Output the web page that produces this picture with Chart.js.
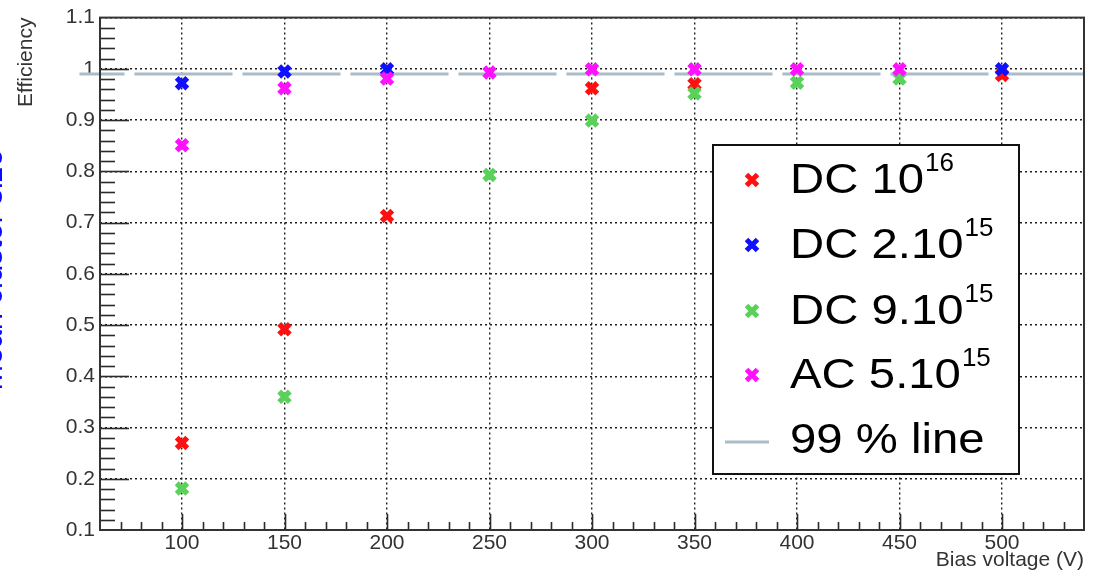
<!DOCTYPE html>
<html>
<head>
<meta charset="utf-8">
<script src="https://cdn.jsdelivr.net/npm/chart.js@4.4.1/dist/chart.umd.min.js"></script>
<style>
html,body{margin:0;padding:0;background:#fff;}
#wrap{width:1100px;height:573px;position:relative;}
</style>
</head>
<body>
<div id="wrap"><canvas id="c" width="1100" height="573"></canvas></div>
<script>
// ---- data ----
const dc1e16X = [100, 150, 200, 300, 350, 500];
const dc1e16Y = [0.270, 0.492, 0.713, 0.962, 0.970, 0.988];
const dc2e15X = [100, 150, 200, 500];
const dc2e15Y = [0.972, 0.995, 0.999, 0.999];
const dc9e15X = [100, 150, 250, 300, 350, 400, 450];
const dc9e15Y = [0.181, 0.360, 0.793, 0.899, 0.952, 0.973, 0.981];
const ac5e15X = [100, 150, 200, 250, 300, 350, 400, 450];
const ac5e15Y = [0.851, 0.962, 0.981, 0.993, 0.999, 0.999, 0.999, 0.999];
const lineX = [50, 540];
const lineLevel = 0.99;

const legendBase = ['DC 10', 'DC 2.10', 'DC 9.10', 'AC 5.10', '99 % line'];
const legendSup = ['16', '15', '15', '15', ''];

const xTicks = [100, 150, 200, 250, 300, 350, 400, 450, 500];
const xTickLabels = ['100', '150', '200', '250', '300', '350', '400', '450', '500'];
const yTicks = [0.1, 0.2, 0.3, 0.4, 0.5, 0.6, 0.7, 0.8, 0.9, 1.0, 1.1];
const yTickLabels = ['0.1', '0.2', '0.3', '0.4', '0.5', '0.6', '0.7', '0.8', '0.9', '1', '1.1'];

const xTitle = 'Bias voltage (V)';
const yTitle = 'Efficiency';
const sideText = 'Mean cluster size';

const colors = ['#ff1010', '#1010ff', '#5ad25a', '#ff10ff'];
const lineColor = '#a9bcc8';
const FONT = '"Liberation Sans", Arial, Helvetica, sans-serif';

function pts(xs, ys) { return xs.map((x, i) => ({x: x, y: ys[i]})); }

const seriesX = [dc1e16X, dc2e15X, dc9e15X, ac5e15X];
const seriesY = [dc1e16Y, dc2e15Y, dc9e15Y, ac5e15Y];
const drawOrder = [4, 3, 2, 1];

const datasets = seriesX.map((xs, i) => ({
  type: 'scatter',
  label: legendBase[i] + legendSup[i],
  data: pts(xs, seriesY[i]),
  pointStyle: 'crossRot',
  pointRadius: 7.5,
  pointBorderWidth: 5.5,
  pointBorderColor: colors[i],
  pointBackgroundColor: colors[i],
  borderColor: colors[i],
  showLine: false,
  order: drawOrder[i]
}));
datasets.push({
  type: 'line',
  label: legendBase[4],
  data: lineX.map(x => ({x: x, y: lineLevel})),
  borderColor: lineColor,
  borderWidth: 3,
  borderDash: [98, 10],
  borderDashOffset: 53,
  pointRadius: 0,
  fill: false,
  clip: false,
  order: 5
});

function drawX(ctx, cx, cy, h, w, color) {
  ctx.save();
  ctx.strokeStyle = color; ctx.lineWidth = w;
  ctx.beginPath();
  ctx.moveTo(cx - h, cy - h); ctx.lineTo(cx + h, cy + h);
  ctx.moveTo(cx + h, cy - h); ctx.lineTo(cx - h, cy + h);
  ctx.stroke();
  ctx.restore();
}

const rootDecor = {
  id: 'rootDecor',
  afterDatasetsDraw(chart) {
    const {ctx, chartArea: a, scales: {x, y}} = chart;
    ctx.save();
    ctx.strokeStyle = '#2a2a2a';
    ctx.lineWidth = 1.6;
    // x ticks (inside, pointing up)
    for (let v = 70; v < 540; v += 10) {
      const px = Math.round(x.getPixelForValue(v)) + 0.5;
      const len = (v % 50 === 0) ? 16 : 8;
      ctx.beginPath(); ctx.moveTo(px, a.bottom); ctx.lineTo(px, a.bottom - len); ctx.stroke();
    }
    // y ticks (inside, pointing right)
    for (let k = 6; k <= 54; k++) {
      const py = Math.round(y.getPixelForValue(k * 0.02)) + 0.5;
      const len = (k % 5 === 0) ? 29 : 15;
      ctx.beginPath(); ctx.moveTo(a.left, py); ctx.lineTo(a.left + len, py); ctx.stroke();
    }
    // frame
    ctx.lineWidth = 2;
    ctx.strokeStyle = '#333';
    ctx.strokeRect(a.left, a.top, a.right - a.left, a.bottom - a.top);
    ctx.restore();
  },
  afterDraw(chart) {
    const ctx = chart.ctx;
    // clipped side text from neighbouring pad
    ctx.save();
    ctx.fillStyle = '#0a0aff';
    ctx.font = '31px ' + FONT;
    ctx.translate(2, 270);
    ctx.rotate(-Math.PI / 2);
    ctx.textAlign = 'center';
    ctx.textBaseline = 'alphabetic';
    ctx.fillText(sideText, 0, 0);
    ctx.restore();

    // legend box
    const lx = 713, ly = 145, lw = 306, lh = 329;
    ctx.save();
    ctx.fillStyle = '#fff';
    ctx.fillRect(lx, ly, lw, lh);
    ctx.lineWidth = 2;
    ctx.strokeStyle = '#111';
    ctx.strokeRect(lx, ly, lw, lh);
    const baselines = [193, 258, 324, 388, 453];
    for (let i = 0; i < legendBase.length; i++) {
      const bl = baselines[i];
      if (i < 4) {
        drawX(ctx, 752, bl - 13, 5.5, 5, colors[i]);
      } else {
        ctx.save();
        ctx.strokeStyle = lineColor; ctx.lineWidth = 3;
        ctx.beginPath(); ctx.moveTo(725, bl - 11); ctx.lineTo(769, bl - 11); ctx.stroke();
        ctx.restore();
      }
      ctx.fillStyle = '#000';
      ctx.textAlign = 'left';
      ctx.textBaseline = 'alphabetic';
      ctx.save();
      ctx.translate(790, bl);
      ctx.scale(1.1, 1);
      ctx.font = '43px ' + FONT;
      ctx.fillText(legendBase[i], 0, 0);
      const w = ctx.measureText(legendBase[i]).width * 1.1;
      ctx.restore();
      if (legendSup[i]) {
        ctx.font = '26px ' + FONT;
        ctx.fillText(legendSup[i], 790 + w + 1, bl - 22);
      }
    }
    ctx.restore();
  }
};

new Chart(document.getElementById('c'), {
  data: {datasets: datasets},
  options: {
    responsive: false,
    animation: false,
    devicePixelRatio: 1,
    layout: {padding: {top: 17, right: 16, left: 0, bottom: 0}},
    plugins: {legend: {display: false}, tooltip: {enabled: false}},
    scales: {
      x: {
        type: 'linear',
        min: 60, max: 540,
        afterBuildTicks: s => { s.ticks = xTicks.map(v => ({value: v})); },
        afterFit: s => { s.height = 43; },
        ticks: {
          autoSkip: false, maxRotation: 0, padding: 1,
          color: '#333',
          font: {family: FONT, size: 21},
          callback: (v, i) => xTickLabels[i]
        },
        grid: {color: '#1e1e1e', lineWidth: 1.4, drawTicks: false},
        border: {display: false, dash: [2, 3]},
        title: {
          display: true, text: xTitle, align: 'end',
          color: '#333', font: {family: FONT, size: 21},
          padding: {top: 0, bottom: 0}
        }
      },
      y: {
        type: 'linear',
        min: 0.1, max: 1.1,
        afterBuildTicks: s => { s.ticks = yTicks.map(v => ({value: v})); },
        afterFit: s => { s.width = 100; },
        ticks: {
          autoSkip: false, padding: 5,
          color: '#333',
          font: {family: FONT, size: 21},
          callback: (v, i) => yTickLabels[i]
        },
        grid: {color: '#1e1e1e', lineWidth: 1.4, drawTicks: false},
        border: {display: false, dash: [2, 3]},
        title: {
          display: true, text: yTitle, align: 'end',
          color: '#333', font: {family: FONT, size: 21},
          padding: {top: 14, bottom: 0}
        }
      }
    }
  },
  plugins: [rootDecor]
});
</script>
</body>
</html>
